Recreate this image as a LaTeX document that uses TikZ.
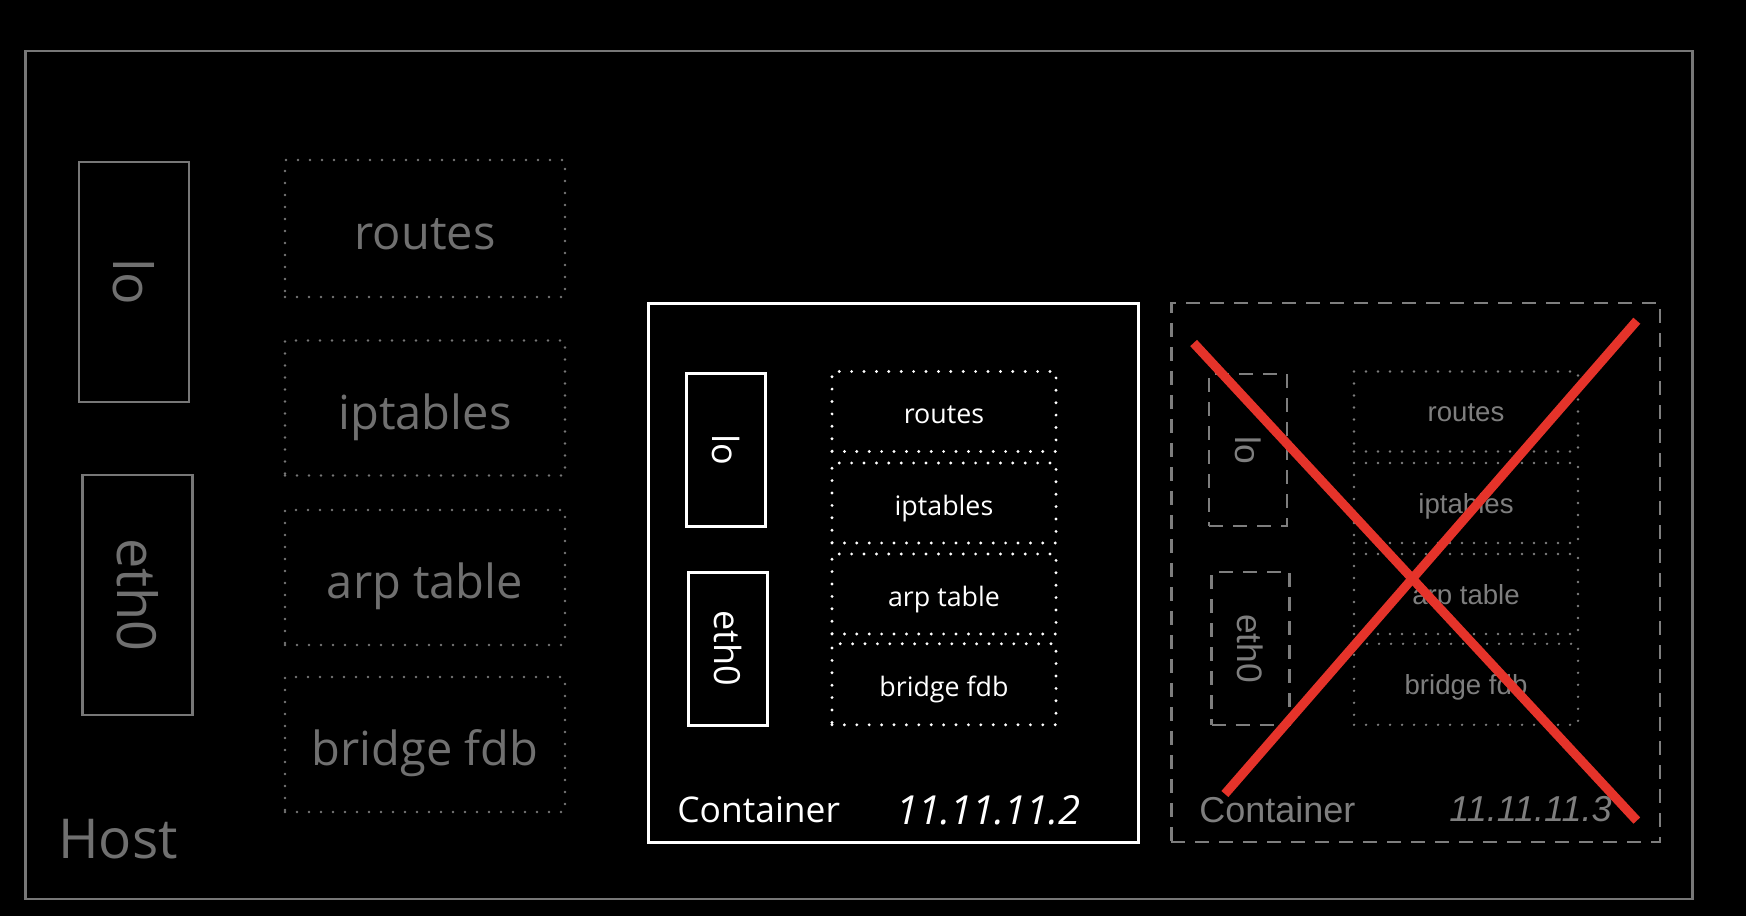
\documentclass[tikz,border=0pt]{standalone}
\usepackage{fontspec}
\setmainfont{Open Sans}
\newfontfamily\arialf{Liberation Sans}
\definecolor{hostgray}{HTML}{777777}
\definecolor{hosttext}{HTML}{707070}
\definecolor{deadgray}{HTML}{7E7E7E}
\definecolor{xred}{HTML}{E5332A}
\begin{document}
\begin{tikzpicture}[x=0.5pt,y=-0.5pt,
  sz/.style 2 args={minimum width=#1*0.5pt, minimum height=#2*0.5pt, inner sep=0pt},
  hostframe/.style={draw=hostgray, line width=1.1pt},
  hostbox/.style={draw=hostgray, line width=1.2pt, text=hosttext},
  hosttab/.style={draw=hostgray, line width=1.3pt, line cap=round, dash pattern=on 0pt off 6pt, text=hosttext, font=\fontsize{23.5}{27}\selectfont, text height=23.5pt, text depth=2.4pt},
  hostif/.style={font=\fontsize{27}{30}\selectfont},
  liveframe/.style={draw=white, line width=1.5pt},
  livebox/.style={draw=white, line width=1.5pt, text=white, font=\fontsize{18}{22}\selectfont},
  livetab/.style={draw=white, line width=1.6pt, line cap=round, dash pattern=on 0pt off 6.2pt, text=white, font=\fontsize{13.4}{16}\selectfont, text height=13.4pt, text depth=1.1pt},
  deadframe/.style={draw=deadgray, line width=1.2pt, dash pattern=on 7pt off 5pt},
  deadbox/.style={draw=deadgray, line width=1.2pt, dash pattern=on 7pt off 5pt, text=deadgray, font=\arialf\fontsize{17.7}{21}\selectfont},
  deadtab/.style={draw=deadgray, line width=1.3pt, line cap=round, dash pattern=on 0pt off 6pt, text=deadgray, font=\arialf\fontsize{13.8}{16}\selectfont, text height=11pt, text depth=0.8pt},
  crossline/.style={draw=xred, line width=4.6pt}
]
\fill[black] (0,0) rectangle (1746,916);
\useasboundingbox (0,0) rectangle (1746,916);

% Host
\node[hostframe, sz={1667}{848}] (host) at (859,475) {};
\node[hostbox, hostif, sz={110}{240}] (hlo) at (134,282) {\rotatebox{-90}{lo}};
\node[hostbox, hostif, sz={110}{240}] (heth) at (137.5,595) {\rotatebox{-90}{eth0}};
\node[hosttab, sz={280}{137}] (hroutes) at (425,228.5) {routes};
\node[hosttab, sz={280}{135}] (hipt) at (425,408) {iptables};
\node[hosttab, sz={280}{135}] (harp) at (425,577.5) {arp table};
\node[hosttab, sz={280}{135}] (hfdb) at (425,744.5) {bridge fdb};
\node[anchor=base west, text=hosttext, font=\fontsize{27.5}{30}\selectfont, inner sep=0pt] (hostlabel) at (58,858.3) {Host};

% Container 1 (alive)
\node[liveframe, sz={490}{539}] (c1) at (893,572.5) {};
\node[livebox, sz={79}{153}] (c1lo) at (725.5,449.5) {\rotatebox{-90}{lo}};
\node[livebox, sz={79}{153}] (c1eth) at (727.5,648.5) {\rotatebox{-90}{eth0}};
\node[livetab, sz={224}{80}] (c1routes) at (944,411.5) {routes};
\node[livetab, sz={224}{80}] (c1ipt) at (944,503) {iptables};
\node[livetab, sz={224}{80}] (c1arp) at (944,594) {arp table};
\node[livetab, sz={224}{81}] (c1fdb) at (944,684.3) {bridge fdb};
\node[anchor=west, text=white, font=\fontsize{17.7}{21}\selectfont, inner sep=0pt] (c1label) at (677,810) {Container};
\node[anchor=west, text=white, font=\itshape\fontsize{20}{22}\selectfont, inner sep=0pt] (c1ip) at (896,810) {11.11.11.2};

% Container 2 (removed)
\node[deadframe, sz={488.6}{539}] (c2) at (1415.7,572.5) {};
\node[deadbox, sz={78}{152}] (c2lo) at (1248,450) {\rotatebox{-90}{lo}};
\node[deadbox, sz={78}{153}] (c2eth) at (1250.5,648.5) {\rotatebox{-90}{eth0}};
\node[deadtab, sz={224}{80}] (c2routes) at (1466,411.5) {routes};
\node[deadtab, sz={224}{80}] (c2ipt) at (1466,503) {iptables};
\node[deadtab, sz={224}{80}] (c2arp) at (1466,594) {arp table};
\node[deadtab, sz={224}{81}] (c2fdb) at (1466,684.3) {bridge fdb};
\node[anchor=west, text=deadgray, font=\arialf\fontsize{18}{21}\selectfont, inner sep=0pt] (c2label) at (1199,809.5) {Container};
\node[anchor=west, text=deadgray, font=\arialf\itshape\fontsize{18}{21}\selectfont, inner sep=0pt] (c2ip) at (1449,809.5) {11.11.11.3};

% Red cross
\coordinate (xa1) at (1193.6,343);
\coordinate (xa2) at (1636.8,820.6);
\coordinate (xb1) at (1636.8,320.7);
\coordinate (xb2) at (1224.9,794);
\draw[crossline] (xa1) -- (xa2);
\draw[crossline] (xb1) -- (xb2);
\end{tikzpicture}
\end{document}
